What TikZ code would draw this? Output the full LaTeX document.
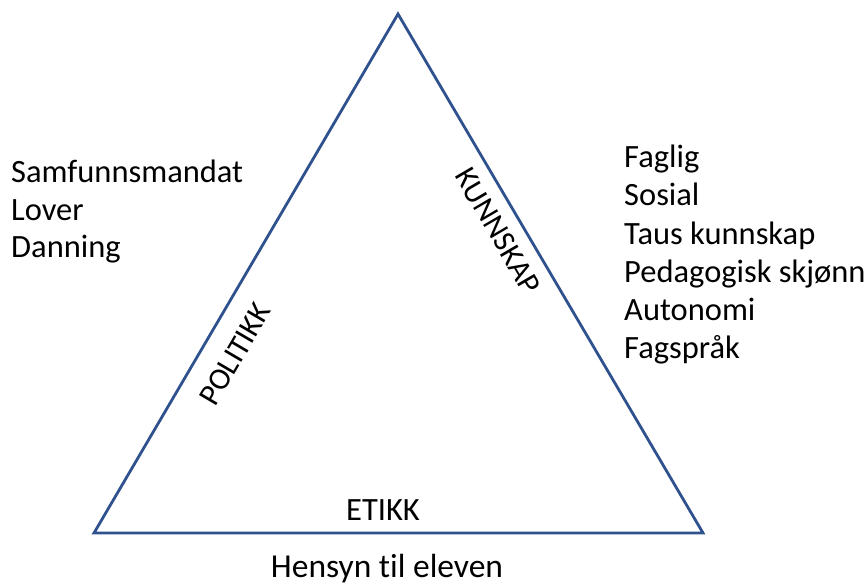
\documentclass[tikz,border=0pt]{standalone}
\usepackage{fontspec}
\setmainfont[Ligatures=NoCommon]{Carlito}
\begin{document}
\begin{tikzpicture}[x=1pt,y=-1pt,
  edge/.style={draw=edgeblue, line width=2.8pt, line join=miter},
  lbl/.style={inner sep=0pt, font=\fontsize{31}{38}\selectfont},
  item/.style={inner sep=0pt, anchor=base west, font=\fontsize{32.5}{38}\selectfont}]
\definecolor{edgeblue}{HTML}{2F528F}
\useasboundingbox (0,0) rectangle (866,583);
\coordinate (top) at (398,14);
\coordinate (bl) at (94,533);
\coordinate (br) at (703,533);
\draw[edge] (top) -- (bl) -- (br) -- cycle;
\node[lbl, rotate=59.6] (pol) at (235,354) {POLITIKK};
\node[lbl, rotate=-59.6] (kun) at (498,231) {KUNNSKAP};
\node[lbl, font=\fontsize{32.5}{38}\selectfont, anchor=base] (eti) at (383,520) {ETIKK};
\node[lbl, font=\fontsize{33.5}{38}\selectfont, anchor=base] (hen) at (387,577) {Hensyn til eleven};
\node[item] (l1) at (11,182) {Samfunnsmandat};
\node[item] (l2) at (11,220) {Lover};
\node[item] (l3) at (11,257.5) {Danning};
\node[item] (r1) at (624,167) {Faglig};
\node[item] (r2) at (624,205) {Sosial};
\node[item] (r3) at (624,244) {Taus kunnskap};
\node[item] (r4) at (624,282) {Pedagogisk skjønn};
\node[item] (r5) at (624,320) {Autonomi};
\node[item] (r6) at (624,358) {Fagspråk};
\end{tikzpicture}
\end{document}
